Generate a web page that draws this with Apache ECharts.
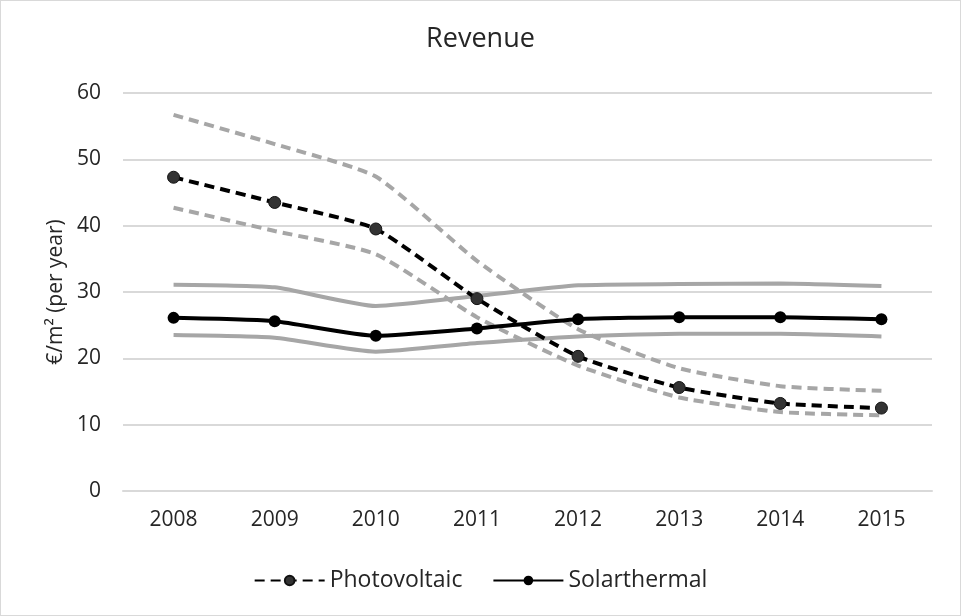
<!DOCTYPE html>
<html>
<head>
<meta charset="utf-8">
<script src="https://cdn.jsdelivr.net/npm/echarts@6/dist/echarts.min.js"></script>
<style>
html, body { margin: 0; padding: 0; background: #fff; }
#main { width: 959px; height: 614px; border: 1px solid #d9d9d9; }
</style>
</head>
<body>
<div id="main"></div>
<script>
// years on the x axis
var years = ['2008', '2009', '2010', '2011', '2012', '2013', '2014', '2015'];
// photovoltaic: mean with upper/lower bounds
var pvMid = [47.3, 43.5, 39.5, 29.0, 20.3, 15.6, 13.2, 12.5];
var pvHigh = [56.7, 52.3, 47.4, 34.7, 24.4, 18.5, 15.8, 15.1];
var pvLow = [42.7, 39.2, 35.7, 26.2, 18.9, 14.1, 11.9, 11.4];
// solarthermal: mean with upper/lower bounds
var stMid = [26.1, 25.6, 23.4, 24.5, 25.9, 26.2, 26.2, 25.9];
var stHigh = [31.1, 30.7, 27.9, 29.4, 31.0, 31.2, 31.3, 30.9];
var stLow = [23.5, 23.1, 21.0, 22.3, 23.3, 23.7, 23.7, 23.3];

var myChart = echarts.init(document.getElementById('main'));
var font = 'Open Sans, sans-serif';
var grayLine = '#a6a6a6';
var textColor = '#262626';
var smoothness = 0.18;

function bound(name, data, dashed) {
	return {
		name: name,
		type: 'line',
		data: data,
		smooth: smoothness,
		symbol: 'none',
		silent: true,
		lineStyle: { color: grayLine, width: 4, type: dashed ? [10, 6] : 'solid' },
		z: 1
	};
}

var option = {
	animation: false,
	textStyle: { fontFamily: font },
	title: {
		text: 'Revenue',
		left: 'center',
		top: 20,
		textStyle: { fontFamily: font, fontSize: 27, fontWeight: 'normal', color: textColor }
	},
	legend: {
		data: ['Photovoltaic', 'Solarthermal'],
		top: 563,
		left: 'center',
		itemWidth: 70,
		itemHeight: 12,
		itemGap: 30,
		textStyle: { fontFamily: font, fontSize: 23, color: textColor }
	},
	grid: { left: 122, right: 28, top: 92, bottom: 124 },
	xAxis: {
		type: 'category',
		data: years,
		boundaryGap: true,
		axisLine: { lineStyle: { color: '#d9d9d9', width: 2 } },
		axisTick: { show: false },
		axisLabel: { fontFamily: font, fontSize: 21, color: textColor, margin: 19 }
	},
	yAxis: {
		type: 'value',
		min: 0,
		max: 60,
		interval: 10,
		name: '€/m² (per year)',
		nameLocation: 'middle',
		nameGap: 44,
		nameTextStyle: { fontFamily: font, fontSize: 21, color: textColor },
		axisLine: { show: false },
		axisTick: { show: false },
		axisLabel: { fontFamily: font, fontSize: 21, color: textColor, margin: 22 },
		splitLine: { lineStyle: { color: '#d9d9d9', width: 2 } }
	},
	series: [
		bound('PV high', pvHigh, true),
		bound('PV low', pvLow, true),
		bound('ST high', stHigh, false),
		bound('ST low', stLow, false),
		{
			name: 'Photovoltaic',
			type: 'line',
			data: pvMid,
			smooth: smoothness,
			symbol: 'circle',
			symbolSize: 12,
			itemStyle: { color: '#333', borderColor: '#111', borderWidth: 1 },
			lineStyle: { color: '#000', width: 4, type: [10, 6] },
			z: 3
		},
		{
			name: 'Solarthermal',
			type: 'line',
			data: stMid,
			smooth: smoothness,
			symbol: 'circle',
			symbolSize: 12,
			itemStyle: { color: '#000' },
			lineStyle: { color: '#000', width: 4 },
			z: 3
		}
	]
};
myChart.setOption(option);
</script>
</body>
</html>
